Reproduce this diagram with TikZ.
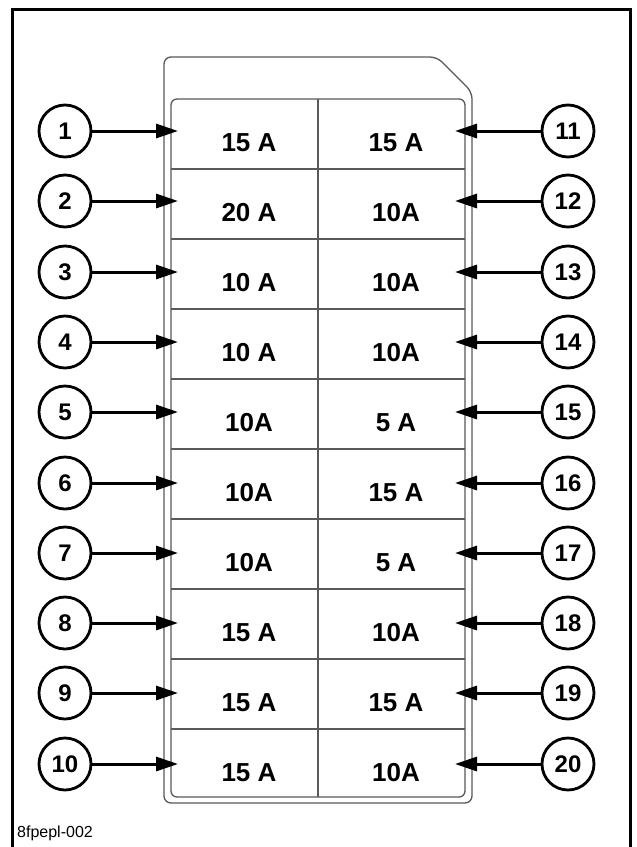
\documentclass[tikz,border=0pt]{standalone}
\usepackage{fontspec}
\setmainfont{Liberation Sans}
\usetikzlibrary{arrows.meta}
\tikzset{
  housing/.style={draw=black!65, line width=1.3pt},
  numcirc/.style={circle, draw=black, line width=2.8pt, minimum size=52pt, inner sep=0pt, font=\fontsize{24}{24}\selectfont\bfseries},
  amp/.style={font=\fontsize{26}{26}\selectfont\bfseries, inner sep=0pt, anchor=center},
  arr/.style={line width=3pt, -{Triangle[length=22pt,width=14pt]}},
}
\begin{document}
\begin{tikzpicture}[x=1pt,y=-1pt]
\useasboundingbox (0,0) rectangle (637,847);
\fill[white] (0,0) rectangle (637,847);
% frame
\draw[line width=3pt] (12,852) -- (12,9) -- (630,9) -- (630,852);
% housing
\draw[housing, rounded corners=7pt] (164,803) -- (164,57) -- (437,57) -- (472,92) -- (472,803) -- cycle;
\draw[housing, rounded corners=6pt] (171,99) rectangle (465,797);
\draw[housing] (318,99) -- (318,797);
\foreach \k in {1,...,9} {
  \draw[housing] (171,{99+70*\k}) -- (465,{99+70*\k});
}
% labels and arrows
\foreach \i/\l/\r [evaluate=\i as \y using {round(131+70.3*(\i-1))}, evaluate=\i as \ry using {143+70*(\i-1)}, evaluate=\i as \j using int(\i+10)] in
  {1/15 A/15 A, 2/20 A/10A, 3/10 A/10A, 4/10 A/10A, 5/10A/5 A, 6/10A/15 A, 7/10A/5 A, 8/15 A/10A, 9/15 A/15 A, 10/15 A/10A} {
  \node[numcirc] (L\i) at (65,\y) {\i};
  \node[numcirc] (R\j) at (568,\y) {\j};
  \coordinate (TL\i) at (178,\y);
  \coordinate (TR\j) at (455,\y);
  \draw[arr] (L\i) -- (TL\i);
  \draw[arr] (R\j) -- (TR\j);
  \node[amp] (A\i) at (249,\ry) {\l};
  \node[amp] (B\j) at (396,\ry) {\r};
}
\node[anchor=west, font=\fontsize{16}{16}\selectfont, inner sep=0pt] (cap) at (17,833) {8fpepl-002};
\end{tikzpicture}
\end{document}
